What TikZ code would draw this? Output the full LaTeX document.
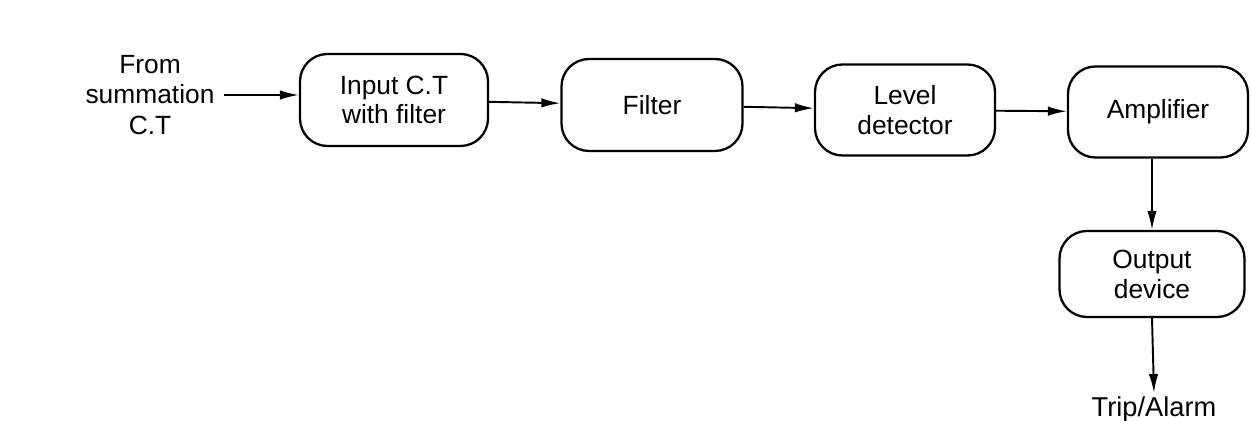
\documentclass[tikz,border=0pt]{standalone}
\usepackage{fontspec}
\setmainfont{Liberation Sans}
\usetikzlibrary{arrows.meta}
\begin{document}
\begin{tikzpicture}[x=0.02cm,y=-0.02cm,
  blk/.style={draw, line width=1.3pt, rounded corners=0.55cm, align=center,
    font=\fontsize{15}{17}\selectfont, inner sep=0pt},
  lbl/.style={align=center, font=\fontsize{15}{17.5}\selectfont},
  conn/.style={line width=1.1pt, -{Latex[length=0.38cm,width=0.19cm]}}]
\useasboundingbox (0,0) rectangle (1251,421);
\node[blk, minimum width=188*0.02cm, minimum height=92*0.02cm] (in) at (394,100) {Input C.T\\with filter};
\node[blk, minimum width=181*0.02cm, minimum height=92*0.02cm] (filt) at (652,105) {Filter};
\node[blk, minimum width=180*0.02cm, minimum height=91*0.02cm] (lev) at (905,110) {Level\\detector};
\node[blk, minimum width=180*0.02cm, minimum height=91*0.02cm] (amp) at (1158,112) {Amplifier};
\node[blk, minimum width=185*0.02cm, minimum height=86*0.02cm] (out) at (1152,274) {Output\\device};
\node[lbl, inner sep=5pt] (src) at (150,95) {From\\summation\\C.T};
\node[lbl, anchor=north, inner sep=2pt, font=\fontsize{15.5}{18}\selectfont] (trip) at (1154,393) {Trip/Alarm};
\draw[conn] (src.east) -- (in.west |- src.east);
\draw[conn] (in) -- (filt);
\draw[conn] (filt) -- (lev);
\draw[conn] (lev) -- (amp);
\draw[conn] (amp.south -| out.north) -- (out.north);
\draw[conn] (out.south) -- (trip.north);
\end{tikzpicture}
\end{document}
